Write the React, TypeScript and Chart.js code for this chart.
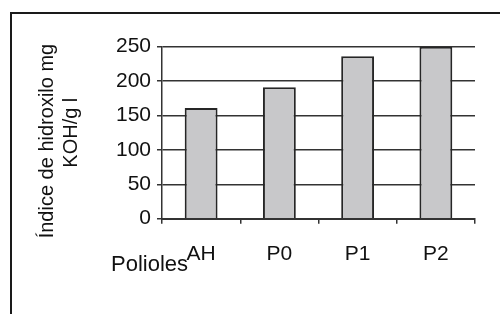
import React, { useEffect, useRef } from "react";
import { Chart, registerables } from "chart.js";

Chart.register(...registerables);

const categories = ["AH", "P0", "P1", "P2"];
const values = [161, 191, 236, 250];
const yTicks = [0, 50, 100, 150, 200, 250];
const yTitleLines = ["Índice de hidroxilo mg   ", "KOH/g l"];
const xTitle = "Polioles";

const FONT = "'Liberation Sans', Arial, Helvetica, sans-serif";
const INK = "#111111";
const LINE = "#333333";

const xTitlePlugin = {
  id: "xTitlePlugin",
  afterDraw(chart: any) {
    const { ctx, chartArea } = chart;
    ctx.save();
    ctx.font = `22px ${FONT}`;
    ctx.fillStyle = INK;
    ctx.textAlign = "left";
    ctx.textBaseline = "alphabetic";
    ctx.fillText(xTitle, chartArea.left - 51, chartArea.bottom + 52);
    ctx.restore();
  },
};

export default function App() {
  const ref = useRef<HTMLCanvasElement | null>(null);

  useEffect(() => {
    if (!ref.current) return;
    const chart = new Chart(ref.current, {
      type: "bar",
      data: {
        labels: categories,
        datasets: [
          {
            data: values,
            backgroundColor: "#c8c8ca",
            borderColor: "#262626",
            borderWidth: 2,
            borderSkipped: "start",
            categoryPercentage: 1,
            barPercentage: 0.42,
          },
        ],
      },
      options: {
        responsive: false,
        animation: false,
        devicePixelRatio: 1,
        layout: { padding: { top: 46.7, right: 25, left: 0, bottom: 0 } },
        plugins: {
          legend: { display: false },
          tooltip: { enabled: false },
          title: { display: false },
        },
        scales: {
          x: {
            type: "category",
            offset: true,
            grid: {
              offset: true,
              drawOnChartArea: false,
              drawTicks: true,
              tickLength: 5,
              color: LINE,
              lineWidth: 1.5,
            },
            border: { display: true, color: LINE, width: 2, z: 1 },
            ticks: {
              color: INK,
              font: { family: FONT, size: 21 },
              padding: 18,
              maxRotation: 0,
            },
            afterFit: (scale: any) => {
              scale.height = 95.3;
            },
          },
          y: {
            min: 0,
            max: 250,
            afterBuildTicks: (scale: any) => {
              scale.ticks = yTicks.map((v) => ({ value: v }));
            },
            grid: {
              drawTicks: true,
              tickLength: 5,
              color: LINE,
              lineWidth: 1.5,
            },
            border: { display: true, color: LINE, width: 1.5 },
            ticks: {
              color: INK,
              font: { family: FONT, size: 21 },
              padding: 6,
            },
            title: {
              display: true,
              text: yTitleLines,
              color: INK,
              font: { family: FONT, size: 20, lineHeight: 1.2 },
              padding: { top: 35.6, bottom: 0 },
            },
            afterFit: (scale: any) => {
              scale.width = 162;
            },
          },
        },
      },
      plugins: [xTitlePlugin],
    });
    return () => chart.destroy();
  }, []);

  return (
    <div
      style={{
        position: "absolute",
        left: 0,
        top: 0,
        width: 500,
        height: 314,
        overflow: "hidden",
        background: "#ffffff",
      }}
    >
      <canvas
        ref={ref}
        width={500}
        height={314}
        style={{ position: "absolute", left: 0, top: 0, width: 500, height: 314 }}
      />
      <div
        style={{
          position: "absolute",
          left: 10,
          top: 12,
          width: 600,
          height: 400,
          borderLeft: "2px solid #1a1a1a",
          borderTop: "2px solid #1a1a1a",
          pointerEvents: "none",
        }}
      />
    </div>
  );
}
